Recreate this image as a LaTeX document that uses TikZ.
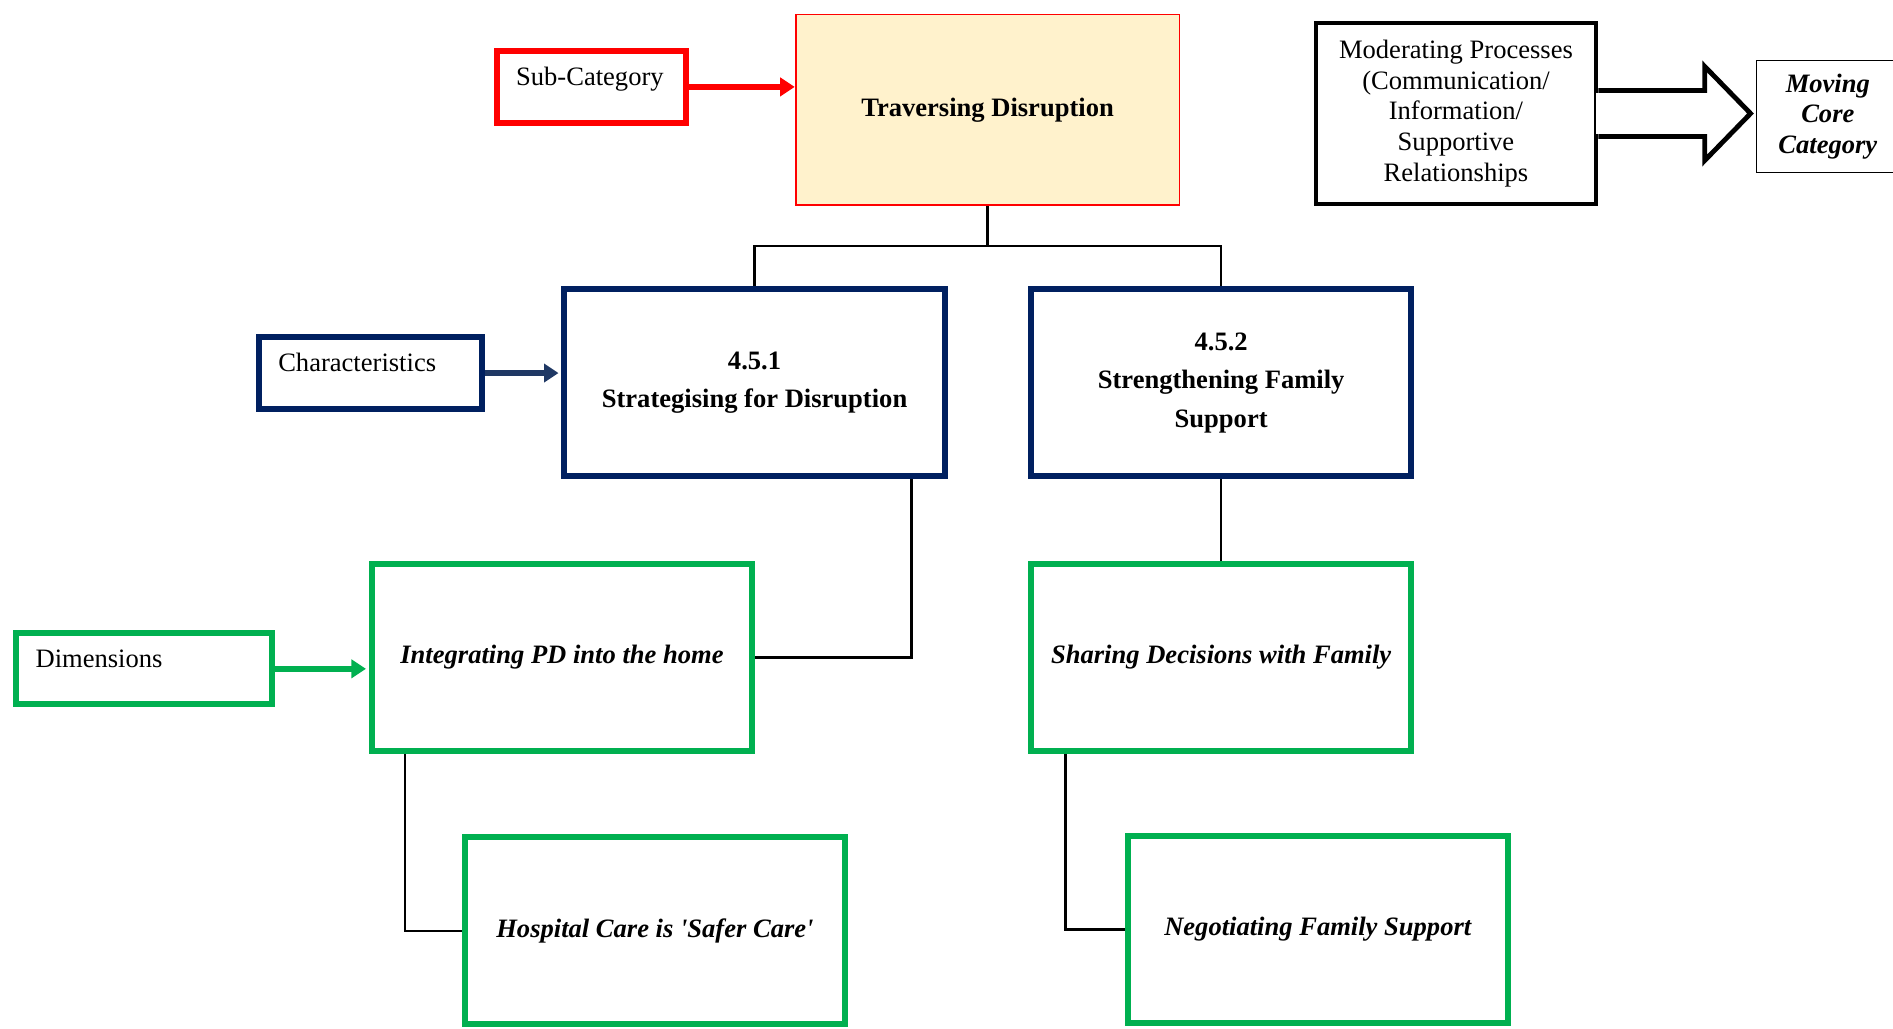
\documentclass[tikz,border=0pt]{standalone}
\usepackage{fontspec}
\setmainfont{Liberation Serif}
\usetikzlibrary{arrows.meta}
\definecolor{subred}{HTML}{FF0000}
\definecolor{travfill}{HTML}{FFF2CC}
\definecolor{navy}{HTML}{002060}
\definecolor{navyarrow}{HTML}{1F3864}
\definecolor{dimgreen}{HTML}{00B050}
\begin{document}
\begin{tikzpicture}[line join=miter,>={Triangle[length=6pt,width=7.5pt]},x=0.5pt,y=-0.5pt,
every node/.style={font=\fontsize{11pt}{12.75pt}\selectfont},
tagbox/.style={draw,line width=2.5pt,align=left,inner xsep=8pt,inner ysep=0pt,text height=14pt,text depth=15.5pt},
mainbox/.style={draw,line width=2.5pt,minimum width=157.5pt,minimum height=77.5pt,align=center,font=\fontsize{11pt}{16pt}\selectfont\bfseries},
dimbox/.style={mainbox,draw=dimgreen,font=\fontsize{11pt}{16pt}\selectfont\bfseries\itshape},
link/.style={line width=1pt}]
\useasboundingbox (0,0) rectangle (1568,852);
% sub-category
\node[mainbox,draw=subred,line width=0.75pt,fill=travfill,minimum width=159pt,minimum height=79pt] (trav) at (818,91) {Traversing Disruption};
\node[tagbox,draw=subred,text width=62.5pt] (sub) at (490,72) {\mbox{Sub-Category}};
\draw[->,line width=2.5pt,subred] (sub.east) -- (trav.west |- sub.east);
% moderating processes and core category
\node[draw,line width=2pt,minimum width=116pt,minimum height=75pt,align=center] (mod) at (1206,94) {Moderating Processes\\(Communication/\\Information/\\Supportive\\Relationships};
\node[draw,line width=0.5pt,minimum width=59pt,minimum height=46.5pt,align=center,font=\fontsize{11pt}{12.75pt}\selectfont\bfseries\itshape] (core) at (1514,96.5) {Moving\\Core\\Category};
\fill[white] (mod.east) ++(-2,-17) rectangle ++(4,34);
\draw[line width=2pt] (mod.east) ++(0,-19) -- ++(88,0) -- ++(0,-20) -- ++(38,39) -- ++(-38,39) -- ++(0,-20) -- ++(-88,0);
% characteristics
\node[mainbox,draw=navy] (s451) at (625,317) {4.5.1\\Strategising for Disruption};
\node[mainbox,draw=navy] (s452) at (1011.5,317) {4.5.2\\Strengthening Family\\Support};
\node[tagbox,draw=navy,text width=76.5pt] (char) at (307,309) {Characteristics};
\draw[->,line width=2.5pt,navyarrow,shorten >=1.2pt] (char.east) -- (s451.west |- char.east);
\draw[link] (trav.south) -- ++(0,33) -| (s451.north);
\draw[link] (trav.south) -- ++(0,33) -| (s452.north);
% dimensions
\node[dimbox] (integ) at (465.5,544.5) {Integrating PD into the home};
\node[dimbox] (share) at (1011.5,544.5) {Sharing Decisions with Family};
\node[dimbox] (hosp) at (542.5,771) {Hospital Care is \textquotesingle Safer Care\textquotesingle};
\node[dimbox] (nego) at (1091.5,770) {Negotiating Family Support};
\node[tagbox,draw=dimgreen,text width=90pt] (dim) at (119.5,554) {Dimensions};
\draw[->,line width=2.5pt,dimgreen,shorten >=1.2pt] (dim.east) -- (integ.west |- dim.east);
\draw[link] ([xshift=-15pt]s451.south east) |- (integ.east);
\draw[link] ([xshift=15pt]integ.south west) |- (hosp.west);
\draw[link] (s452.south) -- (share.north);
\draw[link] ([xshift=15.5pt]share.south west) |- (nego.west);
\end{tikzpicture}
\end{document}
